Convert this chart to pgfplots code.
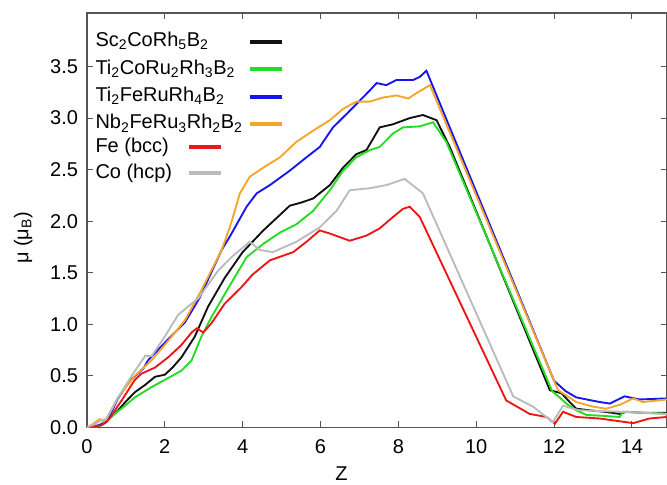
\documentclass[border=0pt]{standalone}
\usepackage{fontspec}
\setmainfont{Liberation Sans}
\usepackage{pgfplots}
\pgfplotsset{compat=1.18}

\definecolor{cblack}{HTML}{111111}
\definecolor{cgreen}{HTML}{22DD22}
\definecolor{cblue}{HTML}{1515F0}
\definecolor{corange}{HTML}{F5A52A}
\definecolor{cred}{HTML}{EE1515}
\definecolor{cgray}{HTML}{BBBBBB}
\definecolor{axisgray}{HTML}{555555}

\pgfplotsset{
  base/.style={
    scale only axis, width=435.3pt, height=310.9pt,
    xmin=0, xmax=14.9, ymin=0, ymax=4.02,
    every axis plot/.append style={line width=1.4pt},
    legend image code/.code={\draw[##1, line width=3pt] (0pt,0pt) -- (24pt,0pt);},
    legend cell align=left,
    legend plot pos=right,
  },
}

\begin{document}
\fontsize{15}{18}\selectfont
\begin{tikzpicture}
\begin{axis}[base, name=main,
  axis line style={axisgray, line width=0.9pt},
  tick style={axisgray, line width=0.8pt},
  major tick length=4.5pt,
  tick align=inside,
  xtick={0,2,...,14},
  ytick={0,0.5,...,3.5},
  /pgf/number format/assume math mode=true,
  yticklabel style={/pgf/number format/fixed, /pgf/number format/fixed zerofill,
    /pgf/number format/precision=1, xshift=-1.5pt},
  xticklabel style={yshift=-4pt},
  xlabel={Z},
  ylabel={μ (μ\textsubscript{B})},
  xlabel style={at={(axis description cs:0.4388,-0.113)}, anchor=center},
  ylabel style={at={(axis description cs:-0.110,0.457)}, anchor=center},
  legend style={draw=none, fill=none, at={(axis description cs:0.012,0.958)},
    anchor=north west, inner sep=0pt, row sep=3.6pt, column sep=3pt,
    nodes={inner sep=1pt, text height=11pt, text depth=4pt}},
]
\addplot[cblack] coordinates {
(0,0) (0.3,0.01) (0.46,0.04) (0.8,0.165) (1.0,0.25) (1.23,0.34) (1.49,0.41)
(1.75,0.49) (2.0,0.51) (2.2,0.58) (2.43,0.68) (2.77,0.88) (3.11,1.17) (3.54,1.45)
(4.0,1.70) (4.53,1.91) (5.21,2.15) (5.5,2.18) (5.81,2.22) (6.24,2.35) (6.58,2.52)
(6.92,2.65) (7.18,2.69) (7.52,2.91) (7.86,2.94) (8.29,3.0) (8.63,3.03) (8.98,2.98)
(9.32,2.72) (11.89,0.36) (12.19,0.33) (12.4,0.245) (12.57,0.18) (12.91,0.165)
(13.3,0.15) (13.68,0.13) (13.86,0.15) (14.3,0.14) (14.9,0.14)};
\addlegendentry{Sc\textsubscript{2}CoRh\textsubscript{5}B\textsubscript{2}}
\addplot[cgreen] coordinates {
(0,0) (0.3,0.01) (0.55,0.08) (0.98,0.21) (1.23,0.29) (1.66,0.39) (2.0,0.46)
(2.43,0.55) (2.69,0.65) (2.94,0.88) (3.2,1.07) (3.63,1.35) (4.1,1.65) (4.53,1.78)
(4.96,1.89) (5.38,1.97) (5.81,2.10) (6.24,2.30) (6.58,2.49) (6.92,2.62) (7.27,2.69)
(7.52,2.72) (7.86,2.85) (8.12,2.91) (8.55,2.92) (8.89,2.96) (9.23,2.77) (11.95,0.35)
(12.14,0.29) (12.31,0.23) (12.57,0.165) (12.83,0.12) (13.3,0.11) (13.68,0.10)
(13.77,0.15) (14.3,0.14) (14.9,0.13)};
\addlegendentry{Ti\textsubscript{2}CoRu\textsubscript{2}Rh\textsubscript{3}B\textsubscript{2}}
\addplot[cblue] coordinates {
(0,0) (0.3,0.02) (0.5,0.05) (0.8,0.28) (1.1,0.45) (1.45,0.57) (1.57,0.65)
(2.0,0.82) (2.52,1.02) (2.9,1.26) (3.46,1.72) (3.67,1.85) (4.1,2.14) (4.36,2.27)
(4.7,2.35) (5.21,2.49) (5.64,2.62) (5.98,2.72) (6.32,2.91) (6.67,3.04) (7.01,3.17)
(7.27,3.27) (7.44,3.34) (7.69,3.32) (7.95,3.37) (8.38,3.37) (8.55,3.40) (8.72,3.46)
(12.0,0.45) (12.3,0.35) (12.57,0.29) (13.17,0.245) (13.43,0.23) (13.81,0.30)
(14.2,0.27) (14.9,0.28)};
\addlegendentry{Ti\textsubscript{2}FeRuRh\textsubscript{4}B\textsubscript{2}}
\addplot[corange] coordinates {
(0,0) (0.15,0.03) (0.33,0.08) (0.45,0.05) (0.8,0.29) (1.23,0.50) (1.66,0.65)
(2.09,0.84) (2.52,1.04) (2.94,1.33) (3.46,1.72) (3.67,1.94) (3.93,2.27) (4.18,2.43)
(4.53,2.52) (4.96,2.62) (5.38,2.77) (5.9,2.90) (6.24,2.98) (6.58,3.09) (6.92,3.16)
(7.27,3.16) (7.61,3.20) (7.95,3.22) (8.25,3.19) (8.5,3.25) (8.81,3.32) (12.1,0.36)
(12.57,0.245) (13.0,0.2) (13.34,0.18) (13.7,0.22) (14.03,0.28) (14.28,0.245)
(14.9,0.27)};
\addlegendentry{Nb\textsubscript{2}FeRu\textsubscript{3}Rh\textsubscript{2}B\textsubscript{2}}
\end{axis}
\begin{axis}[base, hide axis,
  legend style={draw=none, fill=none, at={(axis description cs:0.012,0.7035)},
    anchor=north west, inner sep=0pt, row sep=2.5pt, column sep=10.25pt,
    nodes={inner sep=1pt, text height=11pt, text depth=4pt}},
]
\addplot[cred] coordinates {
(0,0) (0.38,0.02) (0.55,0.07) (0.89,0.26) (1.23,0.46) (1.40,0.52) (1.75,0.58)
(2.09,0.68) (2.43,0.80) (2.69,0.92) (2.82,0.96) (2.99,0.92) (3.2,1.01) (3.54,1.20)
(3.97,1.36) (4.25,1.48) (4.7,1.62) (5.3,1.70) (5.64,1.80) (5.98,1.91) (6.24,1.88)
(6.75,1.81) (7.18,1.86) (7.52,1.93) (7.86,2.04) (8.12,2.12) (8.29,2.14) (8.55,2.04)
(10.77,0.26) (11.37,0.13) (11.8,0.10) (12.02,0.035) (12.23,0.15) (12.57,0.10)
(13.17,0.085) (14.03,0.04) (14.45,0.085) (14.9,0.10)};
\addlegendentry{Fe (bcc)}
\addplot[cgray] coordinates {
(0,0) (0.2,0.03) (0.38,0.07) (0.5,0.08) (0.8,0.29) (1.15,0.50) (1.49,0.69)
(1.66,0.69) (2.0,0.88) (2.34,1.09) (2.69,1.20) (2.86,1.25) (3.37,1.52) (3.71,1.65)
(4.18,1.80) (4.44,1.72) (4.78,1.70) (5.38,1.80) (5.98,1.94) (6.41,2.10) (6.75,2.30)
(7.27,2.32) (7.69,2.35) (8.16,2.41) (8.63,2.27) (10.95,0.30) (11.46,0.2)
(11.97,0.05) (12.23,0.21) (12.48,0.18) (12.66,0.165) (13.77,0.15) (14.9,0.13)};
\addlegendentry{Co (hcp)}
\end{axis}
\pgfresetboundingbox
\path[use as bounding box] ([shift={(-65.25pt,-42.75pt)}]main.south west)
  rectangle ([shift={(0pt,9.75pt)}]main.north east);
\end{tikzpicture}
\end{document}
